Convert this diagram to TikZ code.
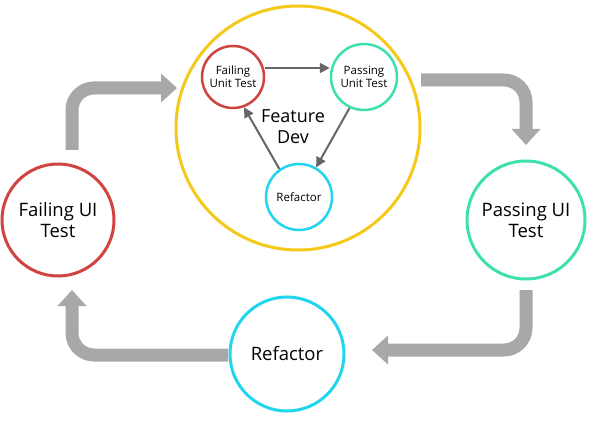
\documentclass[tikz,border=0pt]{standalone}
\usepackage{fontspec}
\setmainfont{Open Sans}
\usetikzlibrary{arrows.meta,calc}
\definecolor{cred}{HTML}{D0433F}
\definecolor{cyel}{HTML}{F5C91A}
\definecolor{cgrn}{HTML}{3FE0B0}
\definecolor{ccyan}{HTML}{22D5EE}
\definecolor{cgray}{HTML}{A8A8A8}
\begin{document}
\begin{tikzpicture}[x=1pt,y=-1pt,
  circ/.style={circle,draw,line width=3pt,fill=white,align=center,inner sep=0pt},
  big/.style={circ,minimum size=112pt,font=\fontsize{18.5}{21}\selectfont},
  small/.style={circ,line width=2.5pt,minimum size=62pt,font=\fontsize{11.5}{13}\selectfont},
  bigarrow/.style={draw=cgray,line width=13pt,rounded corners=22pt,-{Triangle[length=16pt,width=28pt]}},
  thin/.style={draw=black!60,line width=2pt,-{Triangle[length=10pt,width=10pt]}}]
\useasboundingbox (0,0) rectangle (600,425);
\node[circ,draw=cyel,minimum size=244pt] (fd) at (298,128) {};
\node[font=\fontsize{18}{21}\selectfont,align=center] (fdt) at (293,127) {Feature\\Dev};
\node[small,draw=cred] (fut) at (233,77) {Failing\\Unit Test};
\node[small,draw=cgrn,minimum size=66pt] (put) at (364,77) {Passing\\Unit Test};
\node[small,draw=ccyan,minimum size=66pt] (ref) at (299,197) {Refactor};
\node[big,draw=cred] (fui) at (58,220) {Failing UI\\Test};
\node[big,draw=cgrn,minimum size=118pt] (pui) at (526,220) {Passing UI\\Test};
\node[big,draw=ccyan,minimum size=114pt] (rf) at (287,354) {Refactor};
\draw[thin] (fut.east |- 0,68) -- (put.west |- 0,68);
\draw[thin] (put.-115) -- (ref.60);
\draw[thin] (ref.125) -- (fut.-70);
\draw[bigarrow] (72,150) -- (72,88) -- (177,88);
\draw[bigarrow] (421,80) -- (526,80) -- (526,145);
\draw[bigarrow] (526,290) -- (526,350) -- (372,350);
\draw[bigarrow] (228,355) -- (72,355) -- (72,290);
\end{tikzpicture}
\end{document}
